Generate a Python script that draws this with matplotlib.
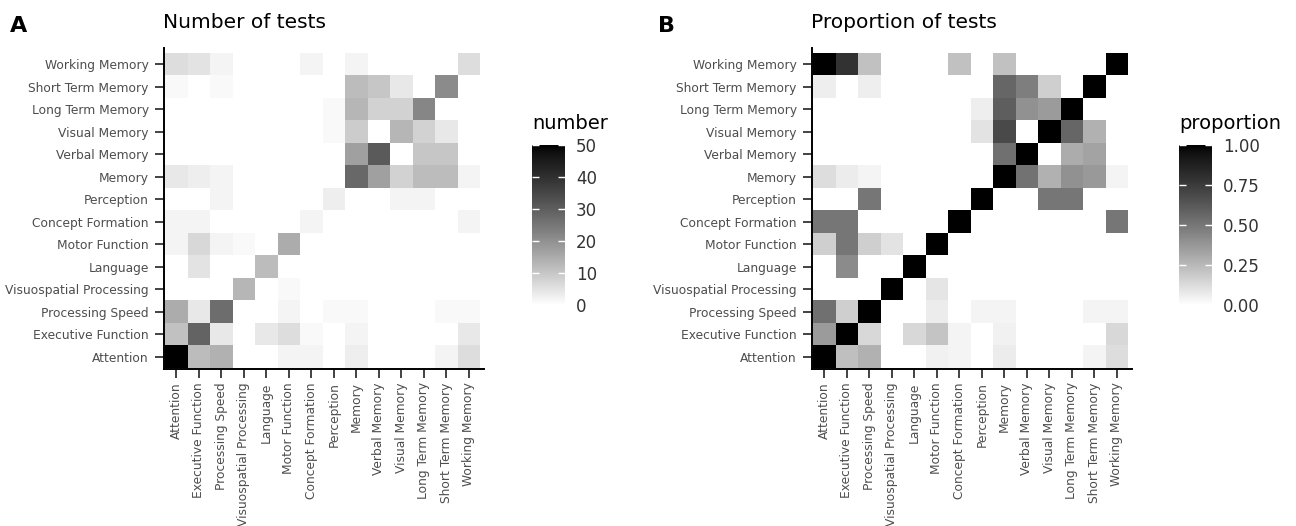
import numpy as np
import matplotlib
matplotlib.use("Agg")
import matplotlib.pyplot as plt
from matplotlib.colors import ListedColormap, Normalize

# Cognitive domains, bottom-to-top on y and left-to-right on x
domains = ["Attention", "Executive Function", "Processing Speed",
           "Visuospatial Processing", "Language", "Motor Function",
           "Concept Formation", "Perception", "Memory", "Verbal Memory",
           "Visual Memory", "Long Term Memory", "Short Term Memory",
           "Working Memory"]

# Number of tests (rows follow `domains`, columns follow `domains`)
n_attention = [50, 12, 14, 0, 0, 2, 2, 0, 3, 0, 0, 0, 2, 6]
n_executive = [11, 29, 4, 0, 4, 6, 1, 0, 2, 0, 0, 0, 0, 4]
n_speed = [15, 4, 27, 0, 0, 2, 0, 1, 1, 0, 0, 0, 1, 1]
n_visuospatial = [0, 0, 0, 13, 0, 1, 0, 0, 0, 0, 0, 0, 0, 0]
n_language = [0, 5, 0, 0, 12, 0, 0, 0, 0, 0, 0, 0, 0, 0]
n_motor = [2, 7, 2, 1, 0, 15, 0, 0, 0, 0, 0, 0, 0, 0]
n_concept = [2, 2, 0, 0, 0, 0, 2, 0, 0, 0, 0, 0, 0, 2]
n_perception = [0, 0, 2, 0, 0, 0, 0, 3, 0, 0, 2, 2, 0, 0]
n_memory = [4, 3, 2, 0, 0, 0, 0, 0, 28, 17, 8, 12, 12, 2]
n_verbal = [0, 0, 0, 0, 0, 0, 0, 0, 17, 31, 0, 10, 10, 0]
n_visual = [0, 0, 0, 0, 0, 0, 0, 1, 9, 0, 13, 8, 4, 0]
n_longterm = [0, 0, 0, 0, 0, 0, 0, 1, 13, 8, 8, 22, 0, 0]
n_shortterm = [1, 0, 1, 0, 0, 0, 0, 0, 12, 10, 4, 0, 21, 0]
n_working = [6, 5, 2, 0, 0, 0, 2, 0, 2, 0, 0, 0, 0, 6]

# Proportion of tests
p_attention = [1, .23, .28, 0, 0, .05, .04, 0, .07, 0, 0, 0, .04, .12]
p_executive = [.36, 1, .14, 0, .14, .21, .04, 0, .05, 0, 0, 0, 0, .14]
p_speed = [.53, .17, 1, 0, 0, .07, 0, .04, .04, 0, 0, 0, .04, .04]
p_visuospatial = [0, 0, 0, 1, 0, .09, 0, 0, 0, 0, 0, 0, 0, 0]
p_language = [0, .42, 0, 0, 1, 0, 0, 0, 0, 0, 0, 0, 0, 0]
p_motor = [.17, .5, .17, .1, 0, 1, 0, 0, 0, 0, 0, 0, 0, 0]
p_concept = [.5, .5, 0, 0, 0, 0, 1, 0, 0, 0, 0, 0, 0, .5]
p_perception = [0, 0, .5, 0, 0, 0, 0, 1, 0, 0, .5, .5, 0, 0]
p_memory = [.12, .07, .04, 0, 0, 0, 0, 0, 1, .52, .28, .4, .37, .04]
p_verbal = [0, 0, 0, 0, 0, 0, 0, 0, .53, 1, 0, .3, .33, 0]
p_visual = [0, 0, 0, 0, 0, 0, 0, .1, .69, 0, 1, .57, .28, 0]
p_longterm = [0, 0, 0, 0, 0, 0, 0, .06, .6, .4, .36, 1, 0, 0]
p_shortterm = [.06, 0, .06, 0, 0, 0, 0, 0, .57, .47, .17, 0, 1, 0]
p_working = [1, .79, .22, 0, 0, 0, .22, 0, .22, 0, 0, 0, 0, 1]

counts = np.array([n_attention, n_executive, n_speed, n_visuospatial,
                   n_language, n_motor, n_concept, n_perception, n_memory,
                   n_verbal, n_visual, n_longterm, n_shortterm, n_working],
                  dtype=float)
props = np.array([p_attention, p_executive, p_speed, p_visuospatial,
                  p_language, p_motor, p_concept, p_perception, p_memory,
                  p_verbal, p_visual, p_longterm, p_shortterm, p_working])


# white -> black gradient, linear in CIE lightness (like ggplot's gradient)
def lightness_to_gray(L):
    fy = (L + 16) / 116
    Y = np.where(fy > 6 / 29, fy ** 3, L / 903.3)
    return np.where(Y > 0.0031308, 1.055 * Y ** (1 / 2.4) - 0.055, 12.92 * Y)


g = lightness_to_gray(np.linspace(100, 0, 256))
cmap = ListedColormap(np.column_stack([g, g, g]))
cmap.set_bad("white")

W, H = 1296, 526
CELL = 22.5
fig = plt.figure(figsize=(W / 100, H / 100), dpi=100)
plt.rcParams["font.family"] = "DejaVu Sans"


def px(x, y, w, h):
    return [x / W, 1 - (y + h) / H, w / W, h / H]


def heatmap(ax, cax, data, vmax, ticks, fmt, legend_title, title, letter,
            x0):
    m = np.ma.masked_equal(data, 0)
    mesh = ax.pcolormesh(np.arange(15), np.arange(15), m, cmap=cmap,
                         norm=Normalize(0, vmax))
    # small gap between tiles and the axis lines, as in the original
    ax.set_xlim(-0.05, -0.05 + 320 / CELL)
    ax.set_ylim(-0.05, -0.05 + 321 / CELL)
    ax.set_xticks(np.arange(14) + 0.5)
    ax.set_yticks(np.arange(14) + 0.5)
    ax.set_xticklabels(domains, rotation=90)
    ax.set_yticklabels(domains)
    for s in ["top", "right"]:
        ax.spines[s].set_visible(False)
    for s in ["left", "bottom"]:
        ax.spines[s].set_linewidth(1.4)
        ax.spines[s].set_color("black")
    ax.tick_params(length=6.5, width=1.2, color="#222222", labelsize=8.8,
                   labelcolor="#4D4D4D", pad=4.5)
    ax.tick_params(axis="x", pad=3)

    cb = fig.colorbar(mesh, cax=cax, ticks=ticks, format=fmt)
    cb.outline.set_visible(False)
    cax.tick_params(axis="y", direction="in", length=5, width=1,
                    color="white", left=True, right=True, labelleft=False,
                    labelright=True, labelsize=12, labelcolor="#333333",
                    pad=8)
    pos = cax.get_position()
    fig.text(pos.x0, 1 - 129 / H, legend_title, fontsize=14, va="baseline")

    fig.text((x0 - 2) / W, 1 - 28 / H, title, fontsize=14.5, va="baseline")
    fig.text((x0 - 155) / W, 1 - 32 / H, letter, fontsize=16,
             fontweight="bold", va="baseline")


axA = fig.add_axes(px(164, 48, 320, 321))
caxA = fig.add_axes(px(532, 145, 33, 160))
heatmap(axA, caxA, counts, 50, [0, 10, 20, 30, 40, 50], "%d", "number",
        "Number of tests", "A", 165)

axB = fig.add_axes(px(812, 48, 320, 321))
caxB = fig.add_axes(px(1179, 145, 33, 160))
heatmap(axB, caxB, props, 1, [0, .25, .5, .75, 1], "%.2f", "proportion",
        "Proportion of tests", "B", 813)

fig.savefig("out.png", dpi=100)
